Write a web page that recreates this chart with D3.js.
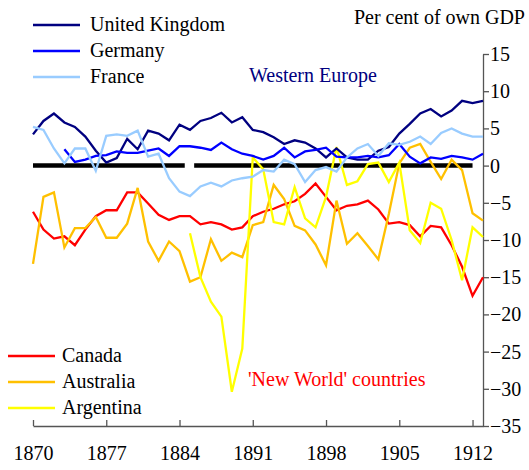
<!DOCTYPE html>
<html>
<head>
<meta charset="utf-8">
<script src="https://cdn.jsdelivr.net/npm/d3@7"></script>
<style>
  body { margin: 0; background: #fff; }
</style>
</head>
<body>
<svg id="chart" width="529" height="470" font-family="Liberation Serif, Times New Roman, serif"></svg>
<script>
// years 1870..1913
var years = d3.range(1870, 1914);

// current account, per cent of own GDP
var uk = [4.2, 6.0, 7.0, 5.8, 5.2, 3.9, 2.0, 0.4, 1.0, 3.6, 2.2, 4.7, 4.3, 3.4, 5.5, 4.8, 6.0, 6.4, 7.1, 5.8,
  6.5, 4.8, 4.5, 3.8, 2.9, 3.4, 3.1, 2.3, 1.1, 2.3, 1.1, 0.8, 0.8, 2.0, 2.5, 4.3, 5.6, 7.0, 7.6, 6.6,
  7.4, 8.7, 8.4, 8.7];
var germany = [null, null, null, 2.2, 0.5, 0.8, 1.3, 1.4, 1.9, 1.7, 1.7, 2.0, 2.3, 1.3, 2.6, 2.6, 2.4, 2.1, 3.1, 2.2,
  1.6, 1.3, 0.8, 1.3, 2.4, 1.1, 1.9, 2.1, 2.4, 1.2, 1.1, 1.1, 1.3, 1.1, 1.4, 2.9, 1.2, 0.3, 1.1, 0.9,
  1.3, 1.1, 0.8, 1.6];
var france = [5.2, 4.8, 2.3, 0.3, 2.3, 2.3, -0.7, 4.0, 4.2, 4.0, 4.7, 1.2, 1.6, -1.7, -3.5, -4.1, -2.8, -2.3, -2.8, -2.0,
  -1.7, -1.5, -0.6, -0.8, 0.8, 0.2, -2.2, -0.6, -0.2, -0.8, 1.1, 2.3, 2.9, 1.3, 3.0, 2.8, 3.2, 3.9, 2.9, 4.4,
  5.0, 4.3, 3.9, 3.9];
var canada = [-6.2, -8.6, -9.8, -9.5, -10.7, -8.6, -6.8, -6.0, -6.0, -3.6, -3.6, -5.1, -6.6, -7.3, -6.8, -6.8, -7.9, -7.6, -7.9, -8.6,
  -8.3, -6.8, -6.2, -5.8, -5.2, -4.8, -3.8, -2.4, -4.2, -6.0, -5.4, -5.2, -4.7, -5.9, -7.8, -7.6, -8.0, -9.5, -8.1, -8.3,
  -10.7, -13.6, -17.5, -15.0];
var australia = [-13.2, -4.2, -3.6, -11.0, -8.4, -8.4, -6.9, -9.7, -9.7, -7.8, -3.0, -10.2, -12.8, -10.2, -11.5, -15.6, -15.0, -9.9, -12.8, -11.7,
  -12.3, -8.0, -7.6, -2.6, -4.5, -8.1, -8.7, -10.6, -13.4, -4.7, -10.5, -9.1, -10.8, -12.6, -6.5, 0.3, 2.4, 2.9, 0.5, -1.8,
  0.8, -0.6, -6.4, -7.4];
var argentina = [null, null, null, null, null, null, null, null, null, null, null, null, null, null, null, -9.1, -15.0, -18.3, -20.3, -30.4,
  -24.6, 1.1, -0.5, -7.6, -7.9, -2.9, -7.1, -8.3, -4.2, 2.5, -2.6, -2.1, 0.2, 0.4, -2.2, 0.4, -8.7, -10.4, -5.0, -5.8,
  -10.0, -15.4, -8.3, -9.6];

var yTicks = [15, 10, 5, 0, -5, -10, -15, -20, -25, -30, -35];
var xTicks = [1870, 1877, 1884, 1891, 1898, 1905, 1912];
// zero reference line, drawn in two pieces as in the original
var zeroLine = [[1870, 1884.5], [1885.4, 1912]];

var serif = 'Liberation Serif, Times New Roman, serif';

var europe = [
  { name: 'United Kingdom', values: uk, color: '#000080' },
  { name: 'Germany', values: germany, color: '#0000ff' },
  { name: 'France', values: france, color: '#99ccff' }
];
var newWorld = [
  { name: 'Canada', values: canada, color: '#ff0000' },
  { name: 'Australia', values: australia, color: '#ffc000' },
  { name: 'Argentina', values: argentina, color: '#ffff00' }
];

var svg = d3.select('#chart');

var x = d3.scaleLinear().domain([1870, 1913]).range([33, 483]);
var y = d3.scaleLinear().domain([-35, 15]).range([426, 54]);

// axes
var yAxis = d3.axisRight(y)
  .tickValues(yTicks)
  .tickSizeInner(6)
  .tickSizeOuter(0)
  .tickPadding(1)
  .tickFormat(d3.format('d'));
var gy = svg.append('g')
  .attr('transform', 'translate(' + x(1913) + ',0)')
  .call(yAxis)
  .attr('font-family', serif)
  .attr('font-size', 20);
gy.select('.domain').attr('stroke', '#555').attr('stroke-width', 1.3);
gy.selectAll('.tick line').attr('stroke', '#555').attr('stroke-width', 1.3);
gy.selectAll('.tick text').attr('fill', '#000');

var xAxis = d3.axisBottom(x)
  .tickValues(xTicks)
  .tickSizeInner(-6)
  .tickSizeOuter(0)
  .tickPadding(20)
  .tickFormat(d3.format('d'));
var gx = svg.append('g')
  .attr('transform', 'translate(0,' + y(-35) + ')')
  .call(xAxis)
  .attr('font-family', serif)
  .attr('font-size', 20);
gx.select('.domain').attr('stroke', '#555').attr('stroke-width', 1.3);
gx.selectAll('.tick line').attr('stroke', '#555').attr('stroke-width', 1.3);
gx.selectAll('.tick text').attr('fill', '#000');

// zero line
svg.append('g').selectAll('line')
  .data(zeroLine)
  .enter().append('line')
  .attr('x1', function(d) { return x(d[0]); })
  .attr('x2', function(d) { return x(d[1]); })
  .attr('y1', y(0))
  .attr('y2', y(0))
  .attr('stroke', '#000')
  .attr('stroke-width', 4.5);

var line = d3.line()
  .defined(function(d) { return d.v !== null; })
  .x(function(d) { return x(d.year); })
  .y(function(d) { return y(d.v); });

function drawSeries(list) {
  svg.append('g').selectAll('path')
    .data(list)
    .enter().append('path')
    .attr('fill', 'none')
    .attr('stroke', function(d) { return d.color; })
    .attr('stroke-width', 2.3)
    .attr('d', function(d) {
      return line(years.map(function(yr, i) { return { year: yr, v: d.values[i] }; }));
    });
}
drawSeries(newWorld);
drawSeries(europe);

// legends
function legend(list, x0, x1, tx, top) {
  var g = svg.append('g');
  list.forEach(function(d, i) {
    var yy = top + i * 26;
    g.append('line')
      .attr('x1', x0).attr('x2', x1)
      .attr('y1', yy).attr('y2', yy)
      .attr('stroke', d.color)
      .attr('stroke-width', 2.3);
    g.append('text')
      .attr('x', tx).attr('y', yy + 6)
      .attr('font-family', serif)
      .attr('font-size', 20)
      .text(d.name);
  });
}
legend(europe, 33, 80, 90, 25);
legend(newWorld, 8, 55, 62, 356);

svg.append('text')
  .attr('x', 525).attr('y', 24)
  .attr('text-anchor', 'end')
  .attr('font-family', serif)
  .attr('font-size', 20)
  .text('Per cent of own GDP');

svg.append('text')
  .attr('x', 249).attr('y', 82)
  .attr('font-family', serif)
  .attr('font-size', 20)
  .attr('fill', '#000080')
  .text('Western Europe');

svg.append('text')
  .attr('x', 248).attr('y', 386)
  .attr('font-family', serif)
  .attr('font-size', 20)
  .attr('fill', '#ff0000')
  .text("'New World' countries");
</script>
</body>
</html>
